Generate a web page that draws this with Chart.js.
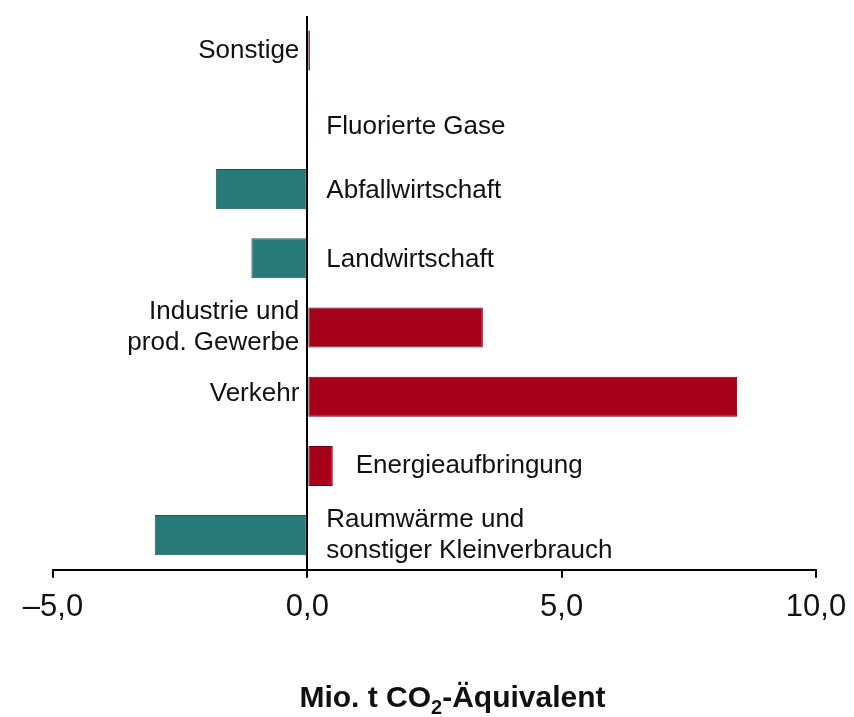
<!DOCTYPE html>
<html>
    <head>
        <meta charset="utf8">
        <title>Mio. t CO2-Äquivalent</title>
        <script src="https://cdn.jsdelivr.net/npm/chart.js@4.4.1/dist/chart.umd.min.js"></script>
        <style>
                body{
                        margin: 0;
                        background: #fff;
                }
                .contenedor{
                        position: relative;
                        width: 854px;
                        height: 717px;
                }
        </style>
    </head>
    <body>
        <div class="contenedor">
                <canvas id="myChart"></canvas>
        </div>
	<script>

		// Kategorien (mehrzeilig wie im Original)
		const categories = [
			['Sonstige'],
			['Fluorierte Gase'],
			['Abfallwirtschaft'],
			['Landwirtschaft'],
			['Industrie und', 'prod. Gewerbe'],
			['Verkehr'],
			['Energieaufbringung'],
			['Raumwärme und', 'sonstiger Kleinverbrauch']
		];
		// Veränderung in Mio. t CO2-Äquivalent
		const changes = [0.05, -0.03, -1.8, -1.1, 3.45, 8.45, 0.5, -3.0];
		const xTicks = [-5, 0, 5, 10];

		const FONT = '"Liberation Sans", Arial, sans-serif';
		const RED = '#a6001a', RED_DARK = '#6a0010';
		const TEAL = '#267b78', TEAL_DARK = '#1a5654';

		function fmt(v) {
			var s = Math.abs(v).toFixed(1).replace('.', ',');
			return v < 0 ? '\u2013' + s : s;
		}

		// Beschriftung der Balken direkt an der Nulllinie
		const barLabels = {
			id: 'barLabels',
			afterDatasetsDraw(chart, args, opts) {
				const ctx = chart.ctx;
				const x0 = chart.scales.x.getPixelForValue(0);
				const meta = chart.getDatasetMeta(0);
				ctx.save();
				ctx.font = '26px ' + FONT;
				ctx.fillStyle = '#111';
				ctx.textBaseline = 'middle';
				meta.data.forEach((bar, i) => {
					const lines = chart.data.labels[i];
					const place = opts.placement[i];
					let x;
					if (place === 'left') { x = x0 - 8; ctx.textAlign = 'right'; }
					else if (place === 'end') { x = bar.x + 23; ctx.textAlign = 'left'; }
					else { x = x0 + 19; ctx.textAlign = 'left'; }
					const dy = opts.shift[i] || 0;
					lines.forEach((t, k) => {
						ctx.fillText(t, x, bar.y + dy + (k - (lines.length - 1) / 2) * 31);
					});
				});
				ctx.restore();
			}
		};

		// Achsentitel mit tiefgestellter 2
		const axisTitle = {
			id: 'axisTitle',
			afterDraw(chart) {
				const ctx = chart.ctx;
				const a = chart.chartArea;
				const big = 'bold 30px ' + FONT, small = 'bold 20px ' + FONT;
				const parts = [['Mio. t CO', big, 0], ['2', small, 7], ['-Äquivalent', big, 0]];
				ctx.save();
				ctx.fillStyle = '#111';
				ctx.textBaseline = 'alphabetic';
				ctx.textAlign = 'left';
				let w = 0;
				parts.forEach(p => { ctx.font = p[1]; w += ctx.measureText(p[0]).width; });
				let x = (a.left + a.right) / 2 + 18 - w / 2;
				const y = chart.height - 10;
				parts.forEach(p => {
					ctx.font = p[1];
					ctx.fillText(p[0], x, y + p[2]);
					x += ctx.measureText(p[0]).width;
				});
				ctx.restore();
			}
		};

		const ctx = document.getElementById('myChart').getContext('2d');
		const myChart = new Chart(ctx, {
		    type: 'bar',
		    data: {
			labels: categories,
			datasets: [{
			    data: changes,
			    backgroundColor: c => c.raw < 0 ? TEAL : RED,
			    borderColor: c => c.raw < 0 ? TEAL_DARK : RED_DARK,
			    borderWidth: 1,
			    borderSkipped: false,
			    barPercentage: 0.58,
			    categoryPercentage: 1
			}]
		    },
		    plugins: [barLabels, axisTitle],
		    options: {
			indexAxis: 'y',
			responsive: true,
			maintainAspectRatio: false,
			animation: false,
			layout: {
			    padding: { left: 53, right: 38, top: 16, bottom: 80 }
			},
			plugins: {
			    legend: { display: false },
			    tooltip: { enabled: false },
			    barLabels: {
				placement: ['left', 'right', 'right', 'right', 'left', 'left', 'end', 'right'],
				shift: [0, 7, 2, 2, 0, -3, 0, 0]
			    }
			},
			scales: {
			    x: {
				min: -5,
				max: 10,
				afterBuildTicks: axis => { axis.ticks = xTicks.map(v => ({ value: v })); },
				afterFit: axis => { axis.paddingLeft = 0; axis.paddingRight = 0; },
				grid: {
				    color: c => (c.tick && c.tick.value === 0) ? '#000' : 'rgba(0,0,0,0)',
				    lineWidth: 2,
				    tickColor: '#000',
				    tickLength: 8,
				    drawTicks: true
				},
				border: { display: true, color: '#000', width: 2 },
				ticks: {
				    padding: 11,
				    color: '#111',
				    font: { family: FONT, size: 31 },
				    maxRotation: 0,
				    callback: v => fmt(v)
				}
			    },
			    y: {
				display: false
			    }
			}
		    }
		});
	</script>
    </body>
</html>
